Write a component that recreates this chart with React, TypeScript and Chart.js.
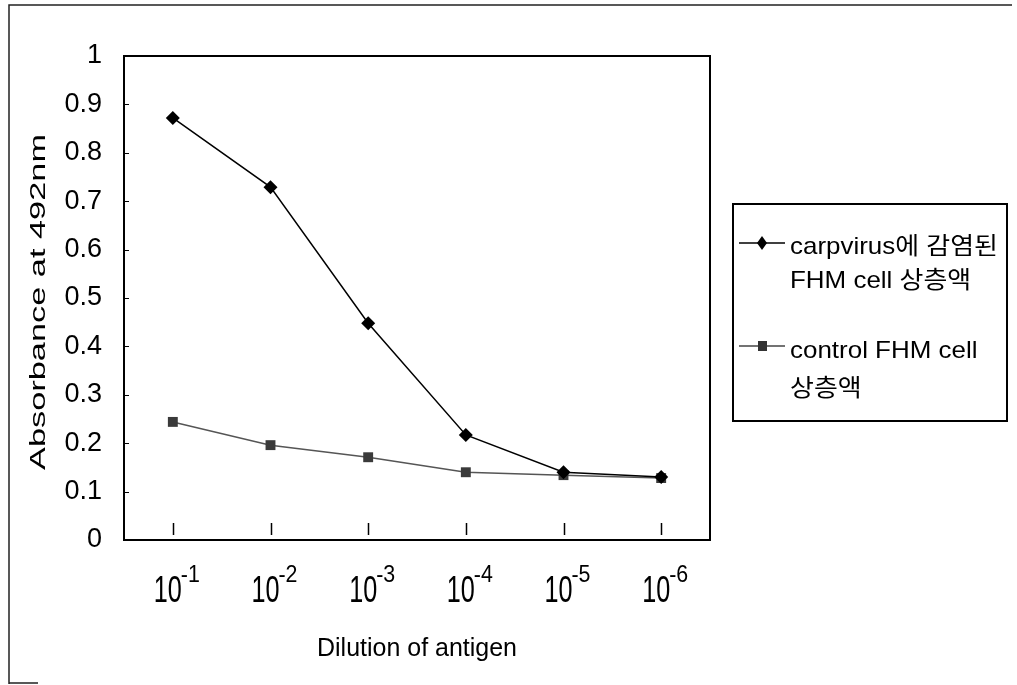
import React, { useEffect, useRef } from 'react';
import { Chart, registerables } from 'chart.js';

Chart.register(...registerables);

const dilutionExponents = ['-1', '-2', '-3', '-4', '-5', '-6'];
const categories = dilutionExponents.map((e) => '10^' + e);
const carpvirusValues = [0.872, 0.729, 0.448, 0.217, 0.140, 0.130];
const controlValues = [0.244, 0.196, 0.171, 0.140, 0.134, 0.128];
const yTickValues = [0, 0.1, 0.2, 0.3, 0.4, 0.5, 0.6, 0.7, 0.8, 0.9, 1];
const carpvirusLegend = ['carpvirus에 감염된', 'FHM cell 상층액'];
const controlLegend = ['control FHM cell', '상층액'];
const xTitle = 'Dilution of antigen';
const yTitle = 'Absorbance at 492nm';

const FONT = "'Liberation Sans Narrow', 'Arial Narrow', 'Liberation Sans', 'Noto Sans CJK KR', sans-serif";

const decorPlugin = {
  id: 'decor',
  afterDraw(chart: any) {
    const ctx = chart.ctx as CanvasRenderingContext2D;
    const { left, right, top, bottom } = chart.chartArea;
    const xs = chart.scales.x;
    const ys = chart.scales.y;
    ctx.save();
    // outer frame
    ctx.strokeStyle = '#222';
    ctx.lineWidth = 1.5;
    ctx.beginPath();
    ctx.moveTo(9, 684);
    ctx.lineTo(9, 5);
    ctx.lineTo(1012, 5);
    ctx.moveTo(9, 683);
    ctx.lineTo(38, 683);
    ctx.stroke();

    // plot box
    ctx.strokeStyle = '#000';
    ctx.lineWidth = 2;
    ctx.strokeRect(left, top, right - left, bottom - top);

    // y tick marks (inward)
    ctx.lineWidth = 1.2;
    ctx.beginPath();
    yTickValues.forEach((v) => {
      const y = Math.round(ys.getPixelForValue(v)) + 0.5;
      ctx.moveTo(left, y);
      ctx.lineTo(left + 5, y);
    });
    ctx.stroke();

    // x tick marks (inward)
    ctx.lineWidth = 1.5;
    ctx.beginPath();
    categories.forEach((_, i) => {
      const x = Math.round(xs.getPixelForValue(i)) + 0.5;
      ctx.moveTo(x, bottom - 17);
      ctx.lineTo(x, bottom - 5);
    });
    ctx.stroke();

    // x tick labels 10^-n
    ctx.fillStyle = '#000';
    ctx.textBaseline = 'alphabetic';
    ctx.textAlign = 'left';
    dilutionExponents.forEach((e, i) => {
      const x = xs.getPixelForValue(i);
      ctx.font = '37px ' + FONT;
      ctx.fillText('10', x - 19, 602, 28);
      ctx.font = '24px ' + FONT;
      ctx.fillText(e, x + 8, 582, 19);
    });

    // y title (rotated)
    ctx.save();
    ctx.translate(45, 302);
    ctx.rotate(-Math.PI / 2);
    ctx.font = '22px ' + FONT;
    ctx.textAlign = 'center';
    const w = ctx.measureText(yTitle).width;
    ctx.scale(336 / w, 1);
    ctx.fillText(yTitle, 0, 0);
    ctx.restore();

    // x title
    ctx.font = '25px ' + FONT;
    ctx.textAlign = 'center';
    ctx.fillText(xTitle, (left + right) / 2, 656, 200);

    // legend box
    const lx = 733, ly = 204, lw = 274, lh = 217;
    ctx.lineWidth = 2;
    ctx.strokeStyle = '#000';
    ctx.strokeRect(lx, ly, lw, lh);

    ctx.font = '24px ' + FONT;
    const legendScale = 208 / ctx.measureText(carpvirusLegend[0]).width;

    const drawEntry = (yLine: number, lines: string[], baselines: number[], color: string, style: string, lineColor: string) => {
      ctx.strokeStyle = lineColor;
      ctx.lineWidth = 1.5;
      ctx.beginPath();
      ctx.moveTo(739, yLine);
      ctx.lineTo(785, yLine);
      ctx.stroke();
      ctx.fillStyle = color;
      ctx.beginPath();
      if (style === 'diamond') {
        ctx.moveTo(762, yLine - 7);
        ctx.lineTo(767, yLine);
        ctx.lineTo(762, yLine + 7);
        ctx.lineTo(757, yLine);
        ctx.closePath();
      } else {
        ctx.rect(758, yLine - 5, 9, 10);
      }
      ctx.fill();
      ctx.fillStyle = '#000';
      ctx.textAlign = 'left';
      ctx.font = '24px ' + FONT;
      lines.forEach((t, k) => {
        ctx.save();
        ctx.translate(790, baselines[k]);
        ctx.scale(legendScale, 1);
        ctx.fillText(t, 0, 0);
        ctx.restore();
      });
    };
    drawEntry(243, carpvirusLegend, [254, 288], '#000', 'diamond', '#000');
    drawEntry(346, controlLegend, [358, 396], '#333', 'square', '#444');

    ctx.restore();
  },
};

export default function App() {
  const canvasRef = useRef<HTMLCanvasElement | null>(null);

  useEffect(() => {
    if (!canvasRef.current) return;
    const chart = new Chart(canvasRef.current, {
      type: 'line',
      data: {
        labels: categories,
        datasets: [
          {
            label: carpvirusLegend.join(' '),
            data: carpvirusValues,
            borderColor: '#000',
            backgroundColor: '#000',
            borderWidth: 1.5,
            pointStyle: 'rectRot',
            pointRadius: 7,
            pointBorderWidth: 0,
            tension: 0,
          },
          {
            label: controlLegend.join(' '),
            data: controlValues,
            borderColor: '#555',
            backgroundColor: '#3a3a3a',
            borderWidth: 1.5,
            pointStyle: 'rect',
            pointRadius: 7,
            pointBorderWidth: 0,
            tension: 0,
          },
        ],
      },
      options: {
        animation: false,
        responsive: false,
        devicePixelRatio: 1,
        layout: { padding: { left: 10, right: 307, top: 56, bottom: 0 } },
        plugins: {
          legend: { display: false },
          tooltip: { enabled: false },
        },
        scales: {
          x: {
            type: 'category',
            offset: true,
            grid: { display: false, drawTicks: false },
            border: { display: false },
            ticks: { display: false },
            afterFit: (s: any) => {
              s.height = 685 - 540;
            },
          },
          y: {
            min: 0,
            max: 1,
            grid: { display: false, drawTicks: false },
            border: { display: false },
            ticks: {
              stepSize: 0.1,
              color: '#000',
              padding: 22,
              font: { family: FONT, size: 27 },
              callback: (v: any) => String(Number(Number(v).toFixed(1))),
            },
            afterFit: (s: any) => {
              s.width = 124 - 10;
            },
          },
        },
      },
      plugins: [decorPlugin],
    });
    return () => chart.destroy();
  }, []);

  return (
    <div style={{ position: 'absolute', left: 0, top: 0, width: 1017, height: 685, background: '#fff' }}>
      <canvas ref={canvasRef} width={1017} height={685} style={{ width: 1017, height: 685, display: 'block' }} />
    </div>
  );
}
